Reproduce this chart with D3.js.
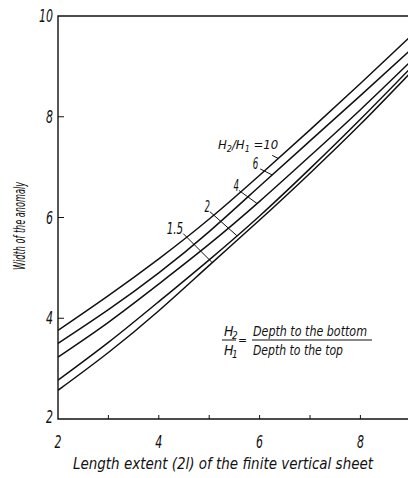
<!DOCTYPE html>
<html>
<head>
<meta charset="utf-8">
<style>
  html, body { margin: 0; padding: 0; background: #fff; }
  svg { display: block; }
  text {
    font-family: 'Liberation Sans Narrow', 'DejaVu Sans Condensed', 'Roboto Condensed', 'DejaVu Sans', sans-serif;
    font-style: italic;
    fill: #111;
  }
</style>
<script src="https://cdn.jsdelivr.net/npm/d3@7"></script>
</head>
<body>
<div id="app"></div>
<script>
// data
const lengthExtent = [2, 3, 4, 5, 6, 7, 8, 9];
const ratioLabels = ['10', '6', '4', '2', '1.5'];
const widthRatio10 = [3.76, 4.45, 5.18, 5.97, 6.84, 7.74, 8.66, 9.60];
const widthRatio6 = [3.50, 4.17, 4.90, 5.72, 6.62, 7.52, 8.42, 9.33];
const widthRatio4 = [3.23, 3.92, 4.68, 5.47, 6.32, 7.22, 8.14, 9.10];
const widthRatio2 = [2.77, 3.52, 4.33, 5.16, 6.03, 6.97, 7.95, 8.97];
const widthRatio15 = [2.57, 3.32, 4.15, 5.05, 5.95, 6.88, 7.85, 8.88];
const xTickLabels = [2, 4, 6, 8];
const xTickMarks = [3, 4, 5, 6, 7, 8];
const yTickLabels = [2, 4, 6, 8, 10];
const yTickMarks = [4, 6, 8];

const series = [widthRatio10, widthRatio6, widthRatio4, widthRatio2, widthRatio15];

// where each ratio label leader meets its curve (x value) and leader offset in px
const leaders = {
  '10': { at: 6.37, dx: -6, dy: -3 },
  '6': { at: 6.25, dx: -12, dy: -6 },
  '4': { at: 5.95, dx: -18, dy: -13 },
  '2': { at: 5.55, dx: -27, dy: -24 },
  '1.5': { at: 5.06, dx: -29, dy: -29 }
};

const w = 408;
const h = 478;

const x = d3.scaleLinear().domain([2, 9]).range([58, 410.8]);
const y = d3.scaleLinear().domain([2, 10]).range([419, 16]);

// narrow look of the original lettering
const narrow = (sel, perChar) => sel
  .attr('textLength', (d, i, n) => perChar * n[i].textContent.length)
  .attr('lengthAdjust', 'spacingAndGlyphs');

const svg = d3.select('#app')
  .append('svg')
  .attr('width', w)
  .attr('height', h);

svg.append('clipPath')
  .attr('id', 'plot-clip')
  .append('rect')
  .attr('x', x(2))
  .attr('y', y(10))
  .attr('width', x(9) - x(2))
  .attr('height', y(2) - y(10));

//////////FRAME//////////

const frame = svg.append('g')
  .attr('stroke', '#111')
  .attr('stroke-width', 1.4)
  .attr('fill', 'none');

frame.append('path')
  .attr('d', `M${x(9)},${y(10)}H${x(2)}V${y(2)}H${x(9)}`);

frame.selectAll('.xtick')
  .data(xTickMarks)
  .join('line')
  .attr('class', 'xtick')
  .attr('x1', (d) => x(d))
  .attr('x2', (d) => x(d))
  .attr('y1', y(2))
  .attr('y2', y(2) - 4)
  .attr('stroke-width', 1);

frame.selectAll('.ytick')
  .data(yTickMarks)
  .join('line')
  .attr('class', 'ytick')
  .attr('x1', x(2))
  .attr('x2', x(2) + 6)
  .attr('y1', (d) => y(d))
  .attr('y2', (d) => y(d))
  .attr('stroke-width', 1);

svg.selectAll('.xlab')
  .data(xTickLabels)
  .join('text')
  .attr('class', 'xlab')
  .attr('x', (d) => x(d))
  .attr('y', y(2) + 29)
  .attr('text-anchor', 'middle')
  .attr('font-size', 18)
  .text((d) => d)
  .call(narrow, 7);

svg.selectAll('.ylab')
  .data(yTickLabels)
  .join('text')
  .attr('class', 'ylab')
  .attr('x', x(2) - 5)
  .attr('y', (d) => d === 2 ? y(d) + 4 : y(d) + 6)
  .attr('text-anchor', 'end')
  .attr('font-size', 18)
  .text((d) => d)
  .call(narrow, 7);

svg.append('text')
  .attr('x', 223)
  .attr('y', 469)
  .attr('text-anchor', 'middle')
  .attr('font-size', 16)
  .attr('textLength', 300)
  .attr('lengthAdjust', 'spacingAndGlyphs')
  .text('Length extent (2l) of the finite vertical sheet');

svg.append('text')
  .attr('transform', 'translate(25,226) rotate(-90)')
  .attr('text-anchor', 'middle')
  .attr('font-size', 16)
  .attr('textLength', 88)
  .attr('lengthAdjust', 'spacingAndGlyphs')
  .text('Width of the anomaly');

//////////CURVES//////////

const line = d3.line()
  .x((d, i) => x(lengthExtent[i]))
  .y((d) => y(d))
  .curve(d3.curveNatural);

svg.append('g')
  .attr('clip-path', 'url(#plot-clip)')
  .selectAll('path')
  .data(series)
  .join('path')
  .attr('fill', 'none')
  .attr('stroke', '#111')
  .attr('stroke-width', 1.5)
  .attr('d', line);

//////////RATIO LABELS//////////

const labels = svg.append('g');

ratioLabels.forEach((r, i) => {
  const lead = leaders[r];
  const onCurve = d3.scaleLinear().domain(lengthExtent).range(series[i]);
  const ex = x(lead.at);
  const ey = y(onCurve(lead.at));
  const sx = ex + lead.dx;
  const sy = ey + lead.dy;

  labels.append('line')
    .attr('x1', sx).attr('y1', sy)
    .attr('x2', ex).attr('y2', ey)
    .attr('stroke', '#111')
    .attr('stroke-width', 1);

  if (r === '10') {
    const t = labels.append('text')
      .attr('x', sx + 6)
      .attr('y', sy - 6)
      .attr('text-anchor', 'end')
      .attr('font-size', 13);
    t.append('tspan').text('H');
    t.append('tspan').attr('dy', 3).attr('font-size', 9).text('2');
    t.append('tspan').attr('dy', -3).text('/H');
    t.append('tspan').attr('dy', 3).attr('font-size', 9).text('1');
    t.append('tspan').attr('dy', -3).text(' =10');
  } else {
    labels.append('text')
      .attr('x', sx - (r === '6' ? 2 : 0))
      .attr('y', sy)
      .attr('text-anchor', 'end')
      .attr('font-size', 16)
      .text(r)
      .call(narrow, 5.5);
  }
});

//////////DEFINITION//////////

const def = svg.append('g').attr('font-size', 14);

def.append('text').attr('x', 224).attr('y', 336).text('H');
def.append('text').attr('x', 232).attr('y', 339).attr('font-size', 10).text('2');
def.append('text').attr('x', 224).attr('y', 355).text('H');
def.append('text').attr('x', 232).attr('y', 358).attr('font-size', 10).text('1');
def.append('line')
  .attr('x1', 222).attr('x2', 236).attr('y1', 340).attr('y2', 340)
  .attr('stroke', '#111').attr('stroke-width', 1);
def.append('text').attr('x', 238).attr('y', 344).attr('font-size', 12).text('=');
def.append('text').attr('x', 253).attr('y', 336)
  .attr('textLength', 114).attr('lengthAdjust', 'spacingAndGlyphs')
  .text('Depth to the bottom');
def.append('line')
  .attr('x1', 252).attr('x2', 372).attr('y1', 340).attr('y2', 340)
  .attr('stroke', '#111').attr('stroke-width', 1.2);
def.append('text').attr('x', 253).attr('y', 355)
  .attr('textLength', 90).attr('lengthAdjust', 'spacingAndGlyphs')
  .text('Depth to the top');
</script>
</body>
</html>
